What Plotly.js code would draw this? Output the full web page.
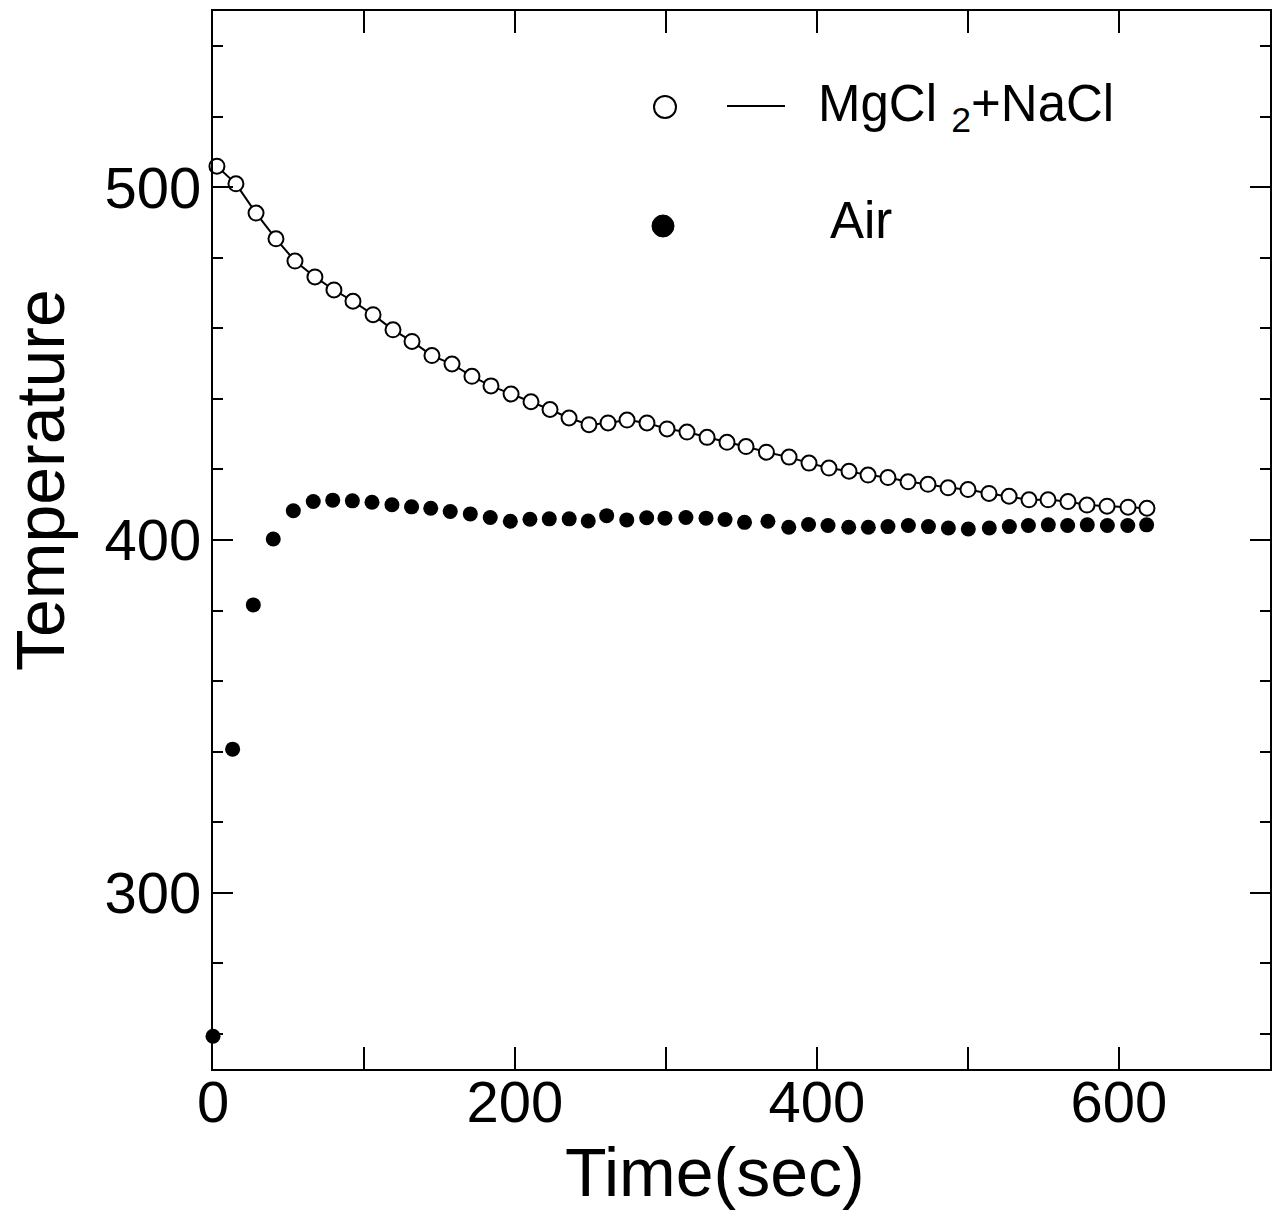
<!DOCTYPE html>
<html>
<head>
<meta charset="utf-8">
<script src="https://cdn.plot.ly/plotly-3.0.1.min.js"></script>
<style>html,body{margin:0;padding:0;background:#fff;}#chart{width:1279px;height:1212px;}</style>
</head>
<body>
<div id="chart"></div>
<script>
// MgCl2 + NaCl series (open circles joined by a line)
const saltTime = [2.6, 15.2, 28.5, 41.7, 54.3, 67.5, 80.1, 92.7, 106.0, 119.2, 131.8, 145.0, 158.3, 171.5, 184.1, 197.4, 210.6, 223.2, 235.8, 249.0, 261.6, 274.2, 287.4, 300.7, 313.9, 327.2, 340.4, 353.0, 366.5, 381.5, 394.7, 407.9, 421.2, 433.8, 447.0, 460.3, 473.5, 486.8, 500.0, 513.9, 527.2, 540.4, 553.0, 566.2, 578.8, 592.1, 606.0, 618.5];
const saltTemp = [506.0, 501.0, 492.7, 485.4, 479.1, 474.6, 470.9, 467.7, 463.9, 459.6, 456.3, 452.3, 449.9, 446.4, 443.7, 441.4, 439.2, 437.0, 434.6, 432.7, 433.2, 434.0, 433.2, 431.5, 430.6, 429.1, 427.7, 426.5, 424.9, 423.5, 421.8, 420.4, 419.5, 418.4, 417.7, 416.5, 415.8, 414.8, 414.3, 413.2, 412.4, 411.4, 411.4, 410.9, 409.9, 409.6, 409.3, 409.0];

// Air series (filled dots)
const airTime = [0, 13.0, 26.7, 39.9, 53.2, 66.4, 79.3, 92.3, 105.3, 118.5, 131.5, 144.2, 157.1, 170.4, 183.6, 196.9, 209.9, 222.7, 235.9, 248.5, 260.7, 274.0, 287.2, 299.3, 313.2, 326.5, 339.1, 352.0, 367.5, 381.3, 394.4, 407.3, 421.0, 434.0, 447.0, 460.5, 473.8, 487.0, 500.2, 514.1, 527.4, 540.0, 553.2, 566.0, 579.0, 592.3, 605.8, 618.3];
const airTemp = [259.3, 340.7, 381.6, 400.3, 408.3, 410.9, 411.3, 411.1, 410.7, 410.0, 409.4, 409.0, 408.1, 407.4, 406.4, 405.3, 405.9, 406.0, 406.0, 405.4, 406.9, 405.7, 406.3, 406.2, 406.4, 406.2, 405.8, 405.0, 405.3, 403.6, 404.4, 404.1, 403.6, 403.6, 403.8, 404.1, 403.8, 403.4, 403.1, 403.4, 403.8, 404.1, 404.3, 404.1, 404.3, 404.1, 404.1, 404.3];

// Tick labels
const xTickVals = [0, 200, 400, 600];
const xTickText = ['0', '200', '400', '600'];
const yTickVals = [300, 400, 500];
const yTickText = ['300', '400', '500'];

const seriesNames = ['MgCl <sub>2</sub>+NaCl', 'Air'];
const xTitle = 'Time(sec)';
const yTitle = 'Temperature';

const FONT = 'Liberation Sans, Arial, Helvetica, sans-serif';

const traces = [
  {
    x: saltTime, y: saltTemp, name: seriesNames[0],
    type: 'scatter', mode: 'lines+markers',
    line: {color: '#000', width: 2},
    marker: {symbol: 'circle', size: 15, color: '#fff', line: {color: '#000', width: 2}},
    cliponaxis: false, showlegend: false
  },
  {
    x: airTime, y: airTemp, name: seriesNames[1],
    type: 'scatter', mode: 'markers',
    marker: {symbol: 'circle', size: 15, color: '#000'},
    cliponaxis: false, showlegend: false
  }
];

const layout = {
  width: 1279, height: 1212,
  margin: {l: 213, r: 9, t: 11, b: 143, pad: 0},
  paper_bgcolor: '#fff', plot_bgcolor: '#fff',
  font: {family: FONT, color: '#000'},
  showlegend: false,
  xaxis: {
    range: [0, 700], showgrid: false, zeroline: false,
    showline: true, linecolor: '#000', linewidth: 2, mirror: 'allticks',
    ticks: 'inside', ticklen: 22, tickwidth: 2, tickcolor: '#000',
    tickvals: xTickVals, ticktext: xTickText,
    minor: {dtick: 100, tick0: 0, ticks: 'inside', ticklen: 22, tickwidth: 2, tickcolor: '#000', showgrid: false},
    tickfont: {family: FONT, size: 58, color: '#000'},
    ticklabelstandoff: -19
  },
  yaxis: {
    range: [250, 550], showgrid: false, zeroline: false,
    showline: true, linecolor: '#000', linewidth: 2, mirror: 'allticks',
    ticks: 'inside', ticklen: 20, tickwidth: 2, tickcolor: '#000',
    tickvals: yTickVals, ticktext: yTickText,
    minor: {dtick: 20, tick0: 0, ticks: 'inside', ticklen: 10, tickwidth: 2, tickcolor: '#000', showgrid: false},
    tickfont: {family: FONT, size: 58, color: '#000'},
    ticklabelstandoff: -2
  },
  annotations: [
    {xref: 'paper', yref: 'paper', x: (715 - 213) / 1057, y: (1069 - 1172) / 1058,
     text: xTitle, showarrow: false, xanchor: 'center', yanchor: 'middle',
     font: {family: FONT, size: 68, color: '#000'}},
    {xref: 'paper', yref: 'paper', x: (40 - 213) / 1057, y: (1069 - 480) / 1058,
     text: yTitle, textangle: -90, showarrow: false, xanchor: 'center', yanchor: 'middle',
     font: {family: FONT, size: 68, color: '#000'}},
    {xref: 'paper', yref: 'paper', x: (816 - 213) / 1057, y: (1069 - 108) / 1058,
     text: seriesNames[0], showarrow: false, xanchor: 'left', yanchor: 'middle',
     font: {family: FONT, size: 51, color: '#000'}},
    {xref: 'paper', yref: 'paper', x: (828 - 213) / 1057, y: (1069 - 220) / 1058,
     text: seriesNames[1], showarrow: false, xanchor: 'left', yanchor: 'middle',
     font: {family: FONT, size: 51, color: '#000'}}
  ],
  shapes: [
    {type: 'circle', xref: 'paper', yref: 'paper', xsizemode: 'pixel', ysizemode: 'pixel',
     xanchor: (665 - 213) / 1057, yanchor: (1069 - 107) / 1058, x0: -11, x1: 11, y0: -11, y1: 11,
     line: {color: '#000', width: 2}, fillcolor: '#fff'},
    {type: 'line', xref: 'paper', yref: 'paper',
     x0: (727 - 213) / 1057, x1: (785 - 213) / 1057, y0: (1069 - 106) / 1058, y1: (1069 - 106) / 1058,
     line: {color: '#000', width: 2}},
    {type: 'circle', xref: 'paper', yref: 'paper', xsizemode: 'pixel', ysizemode: 'pixel',
     xanchor: (663 - 213) / 1057, yanchor: (1069 - 226) / 1058, x0: -11, x1: 11, y0: -11, y1: 11,
     line: {color: '#000', width: 1}, fillcolor: '#000'}
  ]
};

Plotly.newPlot('chart', traces, layout, {staticPlot: true, displayModeBar: false});
</script>
</body>
</html>
